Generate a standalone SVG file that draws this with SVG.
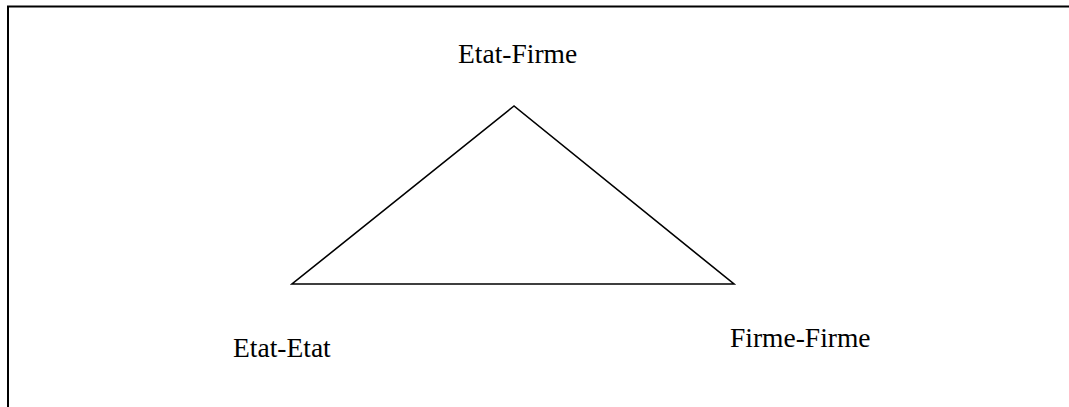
<svg xmlns="http://www.w3.org/2000/svg" width="1069" height="407" viewBox="0 0 1069 407">
<style>
.lbl{font-family:"Liberation Serif","Times New Roman",serif;font-size:27.5px;fill:#000}
.ln{stroke:#000;stroke-width:1.6;fill:none}
</style>
<rect width="1069" height="407" fill="#fff"/>
<path d="M8,410 V6.5 H1075" stroke="#000" stroke-width="2" fill="none"/>
<g id="connectors">
<polygon class="ln" points="514,106 292,284 734,284"/>
</g>
<g id="node-etat-firme"><text class="lbl" x="458" y="63">Etat-Firme</text></g>
<g id="node-etat-etat"><text class="lbl" x="233" y="357">Etat-Etat</text></g>
<g id="node-firme-firme"><text class="lbl" x="730" y="347">Firme-Firme</text></g>
</svg>
